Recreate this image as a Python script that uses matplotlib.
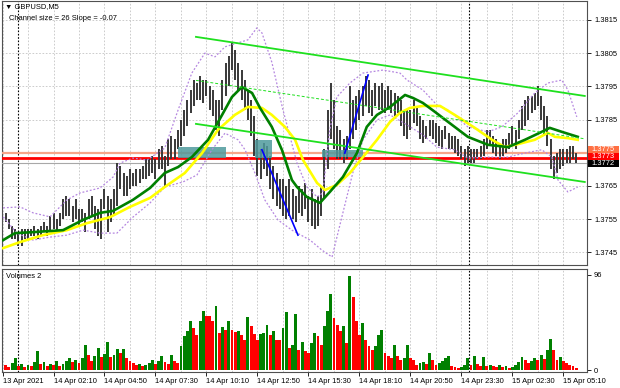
import numpy as np
import matplotlib
matplotlib.use('Agg')
import matplotlib.pyplot as plt
from matplotlib.patches import Rectangle

plt.rcParams['font.family'] = ['Liberation Sans', 'DejaVu Sans']

# prices are kept as pips above 1.3700, one bar = 10 minutes
BASE = 1.37

high_pips = [57, 55, 53, 52, 51, 52, 52, 52, 52, 53,
             52, 53, 54, 53, 56, 57, 55, 57, 61, 62,
             61, 59, 61, 58, 58, 57, 61, 62, 59, 58,
             61, 64, 62, 61, 64, 72, 71, 69, 68, 70,
             69, 70, 70, 71, 73, 73, 74, 73, 76, 77,
             74, 79, 80, 79, 82, 85, 88, 91, 94, 97,
             96, 98, 97, 97, 95, 94, 91, 91, 97, 102,
             104, 108, 106, 102, 100, 97, 94, 91, 86, 79,
             76, 78, 77, 74, 71, 69, 67, 67, 65, 67,
             64, 62, 65, 64, 66, 62, 64, 61, 62, 65,
             76, 88, 96, 91, 83, 82, 79, 80, 95, 91,
             92, 94, 95, 98, 97, 94, 96, 95, 96, 94,
             95, 94, 93, 92, 91, 88, 88, 88, 91, 89,
             86, 85, 83, 85, 85, 84, 83, 82, 83, 81,
             80, 80, 79, 77, 76, 77, 76, 76, 76, 77,
             79, 82, 82, 80, 79, 77, 79, 79, 81, 83,
             82, 85, 89, 91, 92, 92, 93, 95, 92, 89,
             86, 79, 74, 75, 76, 76, 76, 77, 77, 75]

low_pips = [54, 52, 49, 49, 47, 47, 49, 49, 50, 50,
            49, 50, 51, 50, 51, 52, 51, 53, 55, 56,
            56, 54, 55, 53, 54, 51, 55, 56, 52, 50,
            49, 58, 51, 54, 56, 59, 64, 62, 62, 64,
            65, 65, 66, 67, 67, 68, 69, 67, 70, 70,
            65, 71, 73, 73, 76, 77, 80, 83, 87, 89,
            91, 91, 90, 92, 88, 86, 82, 80, 88, 92,
            95, 100, 97, 94, 91, 88, 85, 80, 74, 68,
            67, 70, 68, 64, 61, 59, 58, 56, 55, 56,
            55, 54, 57, 56, 58, 54, 53, 52, 53, 56,
            61, 70, 79, 76, 73, 73, 72, 73, 76, 79,
            82, 85, 86, 89, 87, 86, 89, 88, 88, 87,
            88, 87, 86, 87, 83, 80, 79, 82, 84, 83,
            79, 78, 79, 80, 79, 78, 77, 76, 79, 76,
            76, 75, 74, 73, 71, 72, 72, 72, 73, 73,
            74, 76, 77, 75, 74, 73, 74, 75, 76, 77,
            76, 79, 82, 83, 85, 87, 88, 89, 85, 80,
            77, 70, 67, 69, 70, 71, 72, 72, 73, 72]

volumes = [5, 3, 7, 12, 4, 6, 3, 5, 4, 8,
           19, 6, 8, 4, 6, 5, 9, 4, 6, 9,
           12, 8, 10, 7, 12, 25, 15, 9, 14, 22,
           13, 16, 28, 13, 15, 21, 17, 21, 12, 9,
           7, 5, 6, 4, 5, 7, 10, 6, 9, 14,
           8, 6, 15, 9, 7, 24, 34, 39, 49, 42,
           35, 50, 60, 55, 55, 50, 65, 37, 43, 40,
           49, 40, 38, 39, 35, 30, 54, 44, 36, 30,
           36, 37, 45, 35, 39, 30, 30, 42, 59, 22,
           25, 57, 20, 28, 19, 17, 27, 37, 34, 25,
           44, 60, 77, 53, 45, 39, 44, 27, 95, 74,
           50, 35, 47, 30, 24, 20, 24, 35, 40, 17,
           14, 12, 25, 14, 10, 12, 25, 12, 10, 5,
           7, 8, 6, 17, 10, 5, 7, 9, 12, 14,
           4, 3, 2, 3, 5, 12, 5, 14, 6, 4,
           13, 4, 5, 4, 3, 5, 3, 4, 2, 3,
           5, 8, 13, 10, 7, 9, 12, 10, 15, 11,
           20, 31, 20, 10, 13, 9, 7, 5, 4, 2]

# indicator lines (bar index, pips)
ma_fast_x = [-0.8, 2.9, 8.6, 18, 24.3, 29.6, 33.7, 39.9, 45.3, 49.9, 54.1, 58.4,
             63.5, 67.9, 71, 74.1, 77.3, 79.8, 83.5, 86.7, 89.8, 91.4, 94.5, 98.6,
             101.7, 105.8, 110.2, 113.3, 116.5, 120.6, 125.3, 127.8, 130.9, 134.7,
             138.8, 145, 151.3, 157.6, 162.9, 168.2, 170.7, 174.5, 179.5]
ma_fast_y = [48.7, 50.8, 51.1, 51.7, 54.8, 56.9, 57.5, 60.8, 64.4, 68.9, 70.7, 73.7,
             78.9, 86.4, 91.8, 94.8, 93, 88.5, 82.8, 75.8, 66.8, 64.7, 61.7, 59.9,
             63.2, 67.7, 74.9, 82.8, 86.4, 88.8, 92.4, 91.5, 90, 87.3,
             84.3, 79.8, 77.4, 76.7, 78.9, 81.3, 82.5, 81.3, 79.8]

ma_slow_x = [-0.8, 4.5, 11.7, 19.2, 25.5, 32.7, 39, 45.3, 49.9, 56.2, 61.6, 66.6,
             71.9, 76, 80.4, 83.5, 87.6, 90.8, 93.3, 97.7, 100.2, 103.9, 108, 112.1,
             116.5, 120.6, 123.7, 126.8, 130.9, 136.3, 140.9, 147.2, 152.6, 156.6,
             160.7, 166, 170.1, 172.3, 176.4, 179.5]
ma_slow_y = [46.3, 48.1, 50.2, 51.7, 53.8, 55.6, 58.7, 61.4, 64.7, 68.9, 74.9, 81.9,
             86.4, 88.8, 88.5, 86.4, 82.8, 78.9, 72.8, 65.9, 63.8, 65.3, 68.9, 73.7,
             78.9, 84.3, 87, 88.5, 89.1, 89.1, 86.4, 82.5, 78.9, 76.7,
             77.6, 78.9, 81, 79.8, 79.4, 78.9]

band_up_x = [-0.8, 4.5, 8.6, 13.9, 19.2, 23.3, 29.6, 33.7, 35.9, 39.9, 44.3, 49.9,
             54.1, 58.4, 62.5, 65.7, 68.8, 72.9, 76, 78.8, 80.4, 83.5, 87, 91.4,
             94.5, 97.7, 99.5, 101.7, 103.9, 108, 112.1, 118.4, 123.7, 125.9,
             130.9, 135.3, 138.8, 145, 151.3, 155.7, 160.7, 166, 170.1, 174.5,
             176.4, 179.2]
band_up_y = [58.4, 58.7, 56.9, 55.7, 60.8, 62.9, 64.4, 67.7, 71.9, 73.4, 72.8, 76.4,
             87.9, 99, 105, 103.9, 106.9, 108.1, 109, 112.6, 111.1, 102.3, 87.9, 71.9,
             64.7, 61.7, 62.9, 81.9, 91.8, 96, 99, 99.9, 99, 96.9,
             93.9, 89.4, 87.9, 82.8, 81.3, 82.8, 87, 93, 96, 96.9,
             93.9, 85.8]

band_dn_x = [-0.8, 3.5, 8.6, 13.9, 19.2, 24.3, 29.6, 34.9, 39.9, 45.3, 49.9, 55.6,
             60, 64.7, 68.8, 72.9, 75.1, 78.2, 81.3, 85.4, 89.8, 95.5, 99.2, 102.4,
             105.8, 108.9, 112.1, 116.5, 120.6, 125.9, 130.9, 135.3, 140.9, 145,
             151.3, 157.6, 162.9, 168.2, 171.4, 173.3, 176.4, 179.5]
band_dn_y = [55.7, 50.8, 48.7, 49.6, 50.2, 51.7, 50.8, 50.8, 55.6, 59.9, 64.7, 66.2,
             68.3, 75.9, 80.9, 78.9, 75.9, 68.9, 60.8, 54.8, 51.7, 48.7, 45.7, 43.6,
             56.9, 68.9, 78.9, 84.9, 86.4, 83.4, 80.4, 76.7, 75.9, 73.4,
             73.7, 73.7, 74.9, 75.9, 73.7, 66.8, 63.2, 64.7]

# drawn objects
channel_x = [59.7, 181.7]
channel_top = [109.9, 92.1]
channel_mid = [96.8, 79.2]
channel_bot = [83.7, 66.2]
trend_lines = [([80.4, 91.7], [75.9, 50.2]), ([106.4, 113.7], [74.9, 98.4])]
zones = [(54.1, 69.1, 73.4, 76.8), (78.2, 83.5, 73.4, 78.9), (99.2, 112.1, 73.7, 75.9)]
level_orange, level_red, level_bid = 75.0, 73.5, 72.0

price_ticks = ['1.3745', '1.3755', '1.3765', '1.3775', '1.3785', '1.3795', '1.3805', '1.3815']
time_labels = ['13 Apr 2021', '14 Apr 02:10', '14 Apr 04:50', '14 Apr 07:30', '14 Apr 10:10',
               '14 Apr 12:50', '14 Apr 15:30', '14 Apr 18:10', '14 Apr 20:50', '14 Apr 23:30',
               '15 Apr 02:30', '15 Apr 05:10']
day_breaks = [3.9, 145.3]


def p(v):
    return BASE + np.asarray(v, dtype=float) / 10000.0


W, H = 620, 388
fig = plt.figure(figsize=(6.2, 3.88), dpi=100)
fig.patch.set_facecolor('white')


def axes_px(l, t, r, b):
    return fig.add_axes([l / W, 1 - b / H, (r - l) / W, (b - t) / H])


ax = axes_px(2, 1, 587, 265)
axv = axes_px(2, 269, 587, 372)
x_lo, x_hi = -1.16, 182.4
FS = 5.4

grid_kw = dict(color='#c4c4c4', lw=0.6, ls=(0, (2, 2)), zorder=0.5)
for a in (ax, axv):
    a.set_xlim(x_lo, x_hi)
    for gx in np.arange(-1, 184, 8):
        a.axvline(gx, **grid_kw)
    for d in day_breaks:
        a.axvline(d, color='black', lw=0.8, ls=(0, (1.5, 1.5)), zorder=1)
    for s in a.spines.values():
        s.set_color('#505050')
        s.set_linewidth(0.8)

# main price panel
tick_vals = [float(t) for t in price_ticks]
for tv in tick_vals:
    ax.axhline(tv, **grid_kw)
ax.set_ylim(p(41.2), p(120.7))

bars = np.arange(len(high_pips))
ax.vlines(bars, p(low_pips), p(high_pips), color='#383838', lw=1.4, zorder=3)

ax.axhline(p(level_bid), color='#a8a8a8', lw=0.8, zorder=2.6)
ax.axhline(p(level_orange), color='#f7a589', lw=1.6, zorder=2.7)
ax.axhline(p(level_red), color='#ff0000', lw=2.0, zorder=2.8)

for x0, x1, y0, y1 in zones:
    ax.add_patch(Rectangle((x0, p(y0)), x1 - x0, p(y1) - p(y0), facecolor='#4f9a9c',
                           edgecolor='none', alpha=0.85, zorder=3.5))

ax.plot(band_up_x, p(band_up_y), color='#b587e0', lw=0.9, ls=(0, (1.5, 1.5)), zorder=4)
ax.plot(band_dn_x, p(band_dn_y), color='#b587e0', lw=0.9, ls=(0, (1.5, 1.5)), zorder=4)
ax.plot(ma_slow_x, p(ma_slow_y), color='#ffff00', lw=1.9, zorder=5)
ax.plot(ma_fast_x, p(ma_fast_y), color='#008000', lw=1.9, zorder=5.5)

ax.plot(channel_x, p(channel_top), color='#1ee01e', lw=1.3, zorder=6)
ax.plot(channel_x, p(channel_bot), color='#1ee01e', lw=1.3, zorder=6)
ax.plot(channel_x, p(channel_mid), color='#1ee01e', lw=0.7, ls=(0, (3, 2)), zorder=6)
for tx, ty in trend_lines:
    ax.plot(tx, p(ty), color='#0000ff', lw=1.2, zorder=6)

ax.yaxis.tick_right()
ax.set_yticks(tick_vals)
ax.set_yticklabels([t if t != '1.3775' else '' for t in price_ticks])
ax.tick_params(axis='y', length=3, width=0.6, pad=2, labelsize=FS, colors='black')
ax.tick_params(axis='x', bottom=False, labelbottom=False)

# volume panel
vcol = ['#008000' if i > 0 and volumes[i] > volumes[i - 1] else '#ff0000'
        for i in range(len(volumes))]
axv.bar(bars, volumes, width=0.9, color=vcol, linewidth=0, zorder=3)
axv.set_ylim(-2, 102)
axv.yaxis.tick_right()
axv.set_yticks([0, 96])
axv.set_yticklabels(['0', '96'])
axv.tick_params(axis='y', length=3, width=0.6, pad=2, labelsize=FS)
tick_pos = [-1 + 16 * k for k in range(len(time_labels))]
axv.set_xticks(tick_pos)
axv.set_xticklabels(time_labels)
axv.tick_params(axis='x', length=3, width=0.6, pad=1.5, labelsize=FS)
for lbl in axv.get_xticklabels():
    lbl.set_horizontalalignment('left')

# texts
fig.text(5 / W, 1 - 7 / H, '\u25bc GBPUSD,M5', fontsize=FS, va='center', ha='left')
fig.text(9 / W, 1 - 19 / H, 'Channel size = 26 Slope = -0.07', fontsize=FS, va='center', ha='left')
fig.text(6 / W, 1 - 276 / H, 'Volumes 2', fontsize=FS, va='center', ha='left')

# price boxes on the right scale
for (top, bot, col, txt) in [(146, 154, '#ff7043', '1.3775'),
                             (153.5, 160.5, '#ff0000', '1.3773'),
                             (160.5, 167, '#000000', '1.3772')]:
    fig.patches.append(Rectangle((588 / W, 1 - bot / H), 31 / W, (bot - top) / H,
                                 transform=fig.transFigure, facecolor=col,
                                 edgecolor='none', zorder=10))
    fig.text(591 / W, 1 - (top + bot) / 2 / H, txt, fontsize=FS, color='white',
             va='center', ha='left', zorder=11)

fig.savefig('out.png', dpi=100)
